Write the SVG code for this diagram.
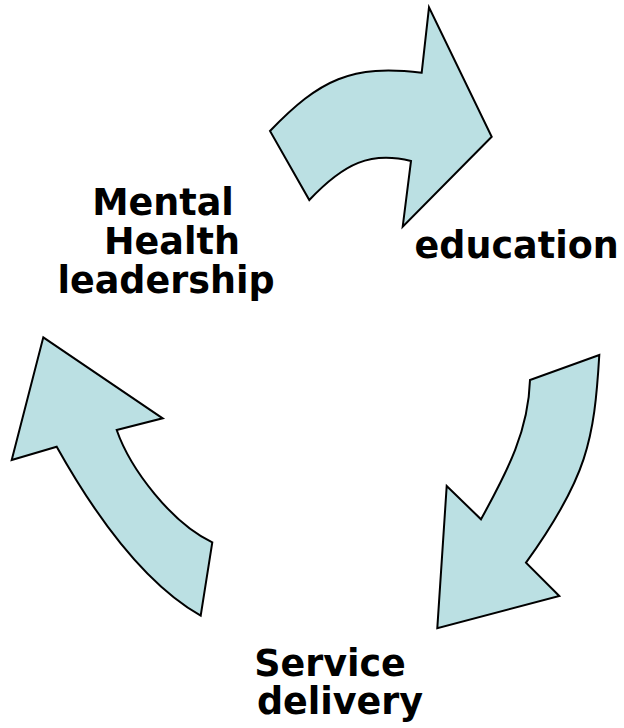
<svg xmlns="http://www.w3.org/2000/svg" width="624" height="728" viewBox="0 0 624 728">
<style>
.arrow{fill:#BBE0E3;stroke:#000;stroke-width:2;stroke-linejoin:miter}
.lbl{font-family:"DejaVu Sans","Liberation Sans",sans-serif;font-weight:bold;font-size:36.5px;fill:#000;text-anchor:middle}
</style>
<rect width="624" height="728" fill="#fff"/>
<g id="connectors">
<path id="arrow-top" class="arrow" d="M270,131 C320,79 351.7,64.3 421.7,72.7 L429,7.3 L491.7,136.7 L402.7,226.7 L411,161 C371,151 344.3,162.9 309.3,200 Z"/>
<path id="arrow-right" class="arrow" d="M599.3,355 L530,380 C528.5,430 508.5,469.3 481,519.3 L446.7,486 L437.3,628.3 L559.3,596 L526,562.7 C587.2,477.7 594.2,440 599.3,355 Z"/>
<path id="arrow-left" class="arrow" d="M43.3,337.3 L162.7,418.3 L116.7,430 C130.7,470 172.3,523.5 212.3,542.3 L200.7,615.7 C140.7,581.5 90.3,506.7 56.7,446.7 L11.7,460 Z"/>
</g>
<g id="node-leadership">
<text class="lbl" x="163" y="215">Mental</text>
<text class="lbl" x="172" y="254">Health</text>
<text class="lbl" x="166" y="293">leadership</text>
</g>
<g id="node-education">
<text class="lbl" x="516.7" y="257.5">education</text>
</g>
<g id="node-service">
<text class="lbl" x="330" y="675.5">Service</text>
<text class="lbl" x="340" y="713.5">delivery</text>
</g>
</svg>
